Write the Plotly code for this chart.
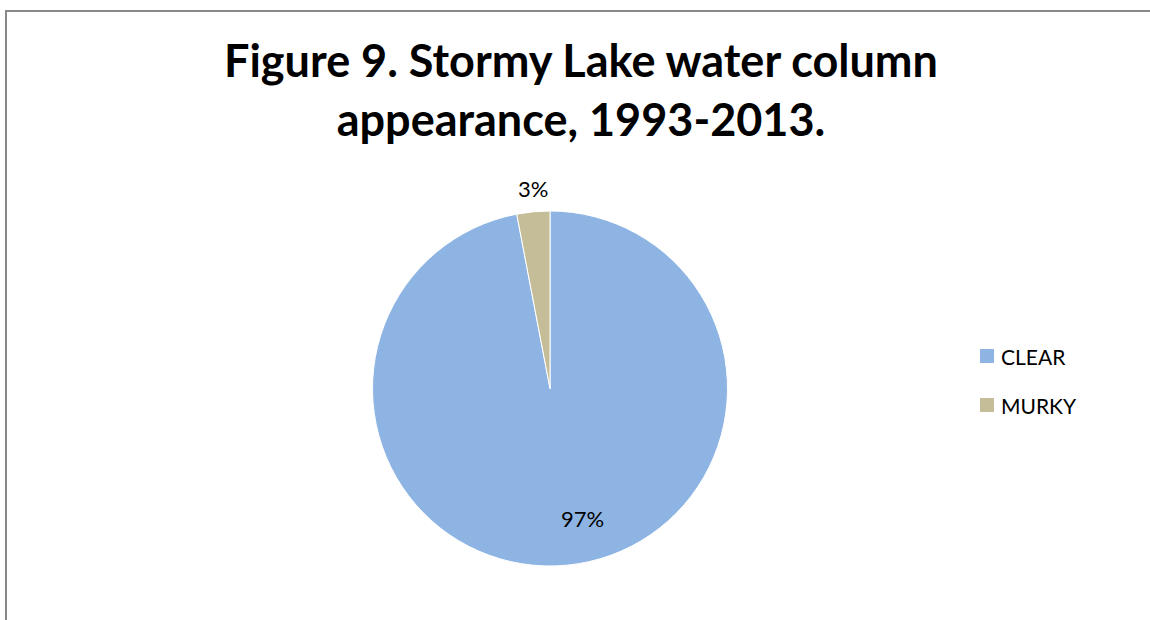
import plotly.graph_objects as go

# Water column appearance observations, share of samples (%)
categories = ["CLEAR", "MURKY"]
shares = [97, 3]
slice_colors = ["#8EB4E3", "#C4BD97"]

W, H = 1150, 620
cx, cy, r = 550, 388.5, 177.5

fig = go.Figure(
    go.Pie(
        labels=categories,
        values=shares,
        sort=False,
        direction="clockwise",
        rotation=0,
        marker=dict(colors=slice_colors, line=dict(color="white", width=1)),
        textinfo="none",
        hoverinfo="label+percent",
        showlegend=False,
        domain=dict(
            x=[(cx - r) / W, (cx + r) / W],
            y=[1 - (cy + r) / H, 1 - (cy - r) / H],
        ),
    )
)

annotations = [
    dict(
        text="<b>Figure 9. Stormy Lake water column<br>appearance, 1993-2013.</b>",
        xref="paper", yref="paper",
        x=581 / W, y=1 - 31 / H,
        xanchor="center", yanchor="top",
        showarrow=False,
        font=dict(family="Lato", size=45, color="#000000"),
    )
]

# Data labels for the two slices
label_spots = [(582, 518), (533, 189)]
for val, (lx, ly) in zip(shares, label_spots):
    annotations.append(
        dict(
            text=f"{val}%",
            xref="paper", yref="paper",
            x=lx / W, y=1 - ly / H,
            xanchor="center", yanchor="middle",
            showarrow=False,
            font=dict(family="Lato", size=22, color="#000000"),
        )
    )

# Legend entries drawn to the right of the pie
shapes = []
for i, (name, col) in enumerate(zip(categories, slice_colors)):
    ymid = 356 + 49 * i
    shapes.append(
        dict(
            type="rect", xref="paper", yref="paper",
            x0=980 / W, x1=994 / W,
            y0=1 - (ymid + 7) / H, y1=1 - (ymid - 7) / H,
            fillcolor=col, line=dict(width=0),
        )
    )
    annotations.append(
        dict(
            text=name,
            xref="paper", yref="paper",
            x=999 / W, y=1 - ymid / H,
            xanchor="left", yanchor="middle",
            showarrow=False,
            font=dict(family="Lato", size=21, color="#000000"),
        )
    )

# Chart area border
shapes.append(
    dict(
        type="rect", xref="paper", yref="paper",
        x0=6 / W, y0=-0.05, x1=1.05, y1=1 - 11 / H,
        line=dict(color="#888888", width=2),
        fillcolor="rgba(0,0,0,0)",
    )
)

fig.update_layout(
    width=W,
    height=H,
    margin=dict(l=0, r=0, t=0, b=0),
    paper_bgcolor="white",
    plot_bgcolor="white",
    annotations=annotations,
    shapes=shapes,
)

fig.write_html("out.html")
